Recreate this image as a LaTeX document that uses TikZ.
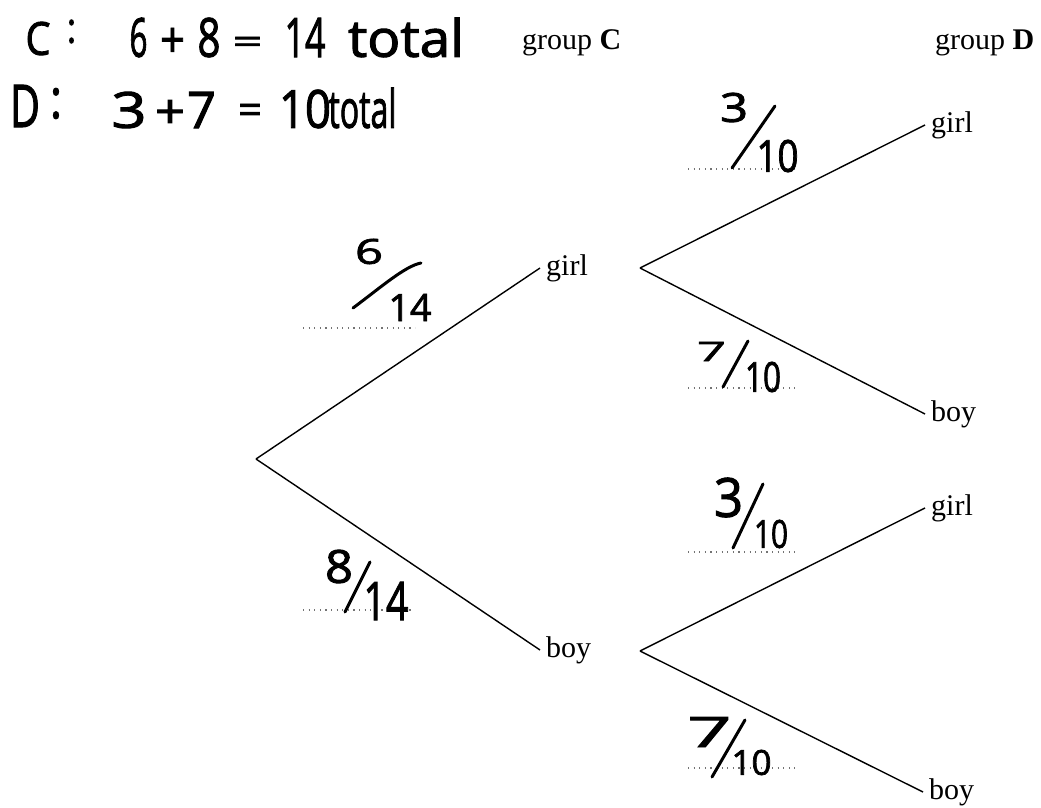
\documentclass[tikz,border=0pt]{standalone}
\usepackage{fontspec}
\setmainfont{Liberation Serif}
\newfontfamily\hwfont{Open Sans}[FakeBold=2]
\usepackage{graphicx}
\newcommand\hwtxt[3]{\resizebox{#1pt}{#2pt}{\hwfont #3}}
\begin{document}
\begin{tikzpicture}[x=1pt,y=-1pt,
  lbl/.style={font=\fontsize{30}{36}\selectfont, inner xsep=6pt, inner ysep=0pt, anchor=west},
  head/.style={font=\fontsize{30}{36}\selectfont, inner sep=0pt, anchor=base west},
  branch/.style={line width=1.4pt},
  blank/.style={black!55, line width=1.2pt, dash pattern=on 1.2pt off 4.4pt},
  hw/.style={inner sep=0pt},
  slash/.style={line width=3pt, line cap=round}]
\useasboundingbox (0,0) rectangle (1041,808);

% handwritten header notes
\node[hw] (t1) at (38,38.5) {\hwtxt{25}{33}{C}};
\node[hw] (t2) at (71.5,31.5) {\hwtxt{9}{23}{:}};
\node[hw] (t3) at (138.5,37.5) {\hwtxt{18}{39}{6}};
\node[hw] (t4) at (172.5,42.5) {\hwtxt{25}{29}{+}};
\node[hw] (t5) at (209,37.5) {\hwtxt{23}{39}{8}};
\node[hw] (t6) at (247.5,45) {\hwtxt{30}{16}{=}};
\node[hw] (t7) at (305,37.5) {\hwtxt{41}{39}{14}};
\node[hw] (t8) at (406,37.5) {\hwtxt{116}{39}{total}};

\node[hw] (u1) at (25,106) {\hwtxt{30}{42}{D}};
\node[hw] (u2) at (56,103.5) {\hwtxt{12}{30}{:}};
\node[hw] (u3) at (129,110) {\hwtxt{35}{36}{3}};
\node[hw] (u4) at (170,114) {\hwtxt{30}{28}{+}};
\node[hw] (u5) at (201.5,110) {\hwtxt{29}{36}{7}};
\node[hw] (u6) at (250,114) {\hwtxt{24}{20}{=}};
\node[hw] (u7) at (305,109) {\hwtxt{52}{38}{10}};
\node[hw] (u8) at (362.5,108) {\hwtxt{68}{40}{total}};

% column headings
\node[head] (hc) at (522,50) {group \textbf{C}};
\node[head] (hd) at (935,50) {group \textbf{D}};

% tree
\coordinate (root) at (256,459);
\node[lbl] (cg) at (540,268) {girl};
\node[lbl] (cb) at (540,650) {boy};
\coordinate (fg) at (640,268);
\coordinate (fb) at (640,651);
\node[lbl] (dg1) at (925,125) {girl};
\node[lbl] (db1) at (925,414) {boy};
\node[lbl] (dg2) at (925,508) {girl};
\node[lbl] (db2) at (923,792) {boy};

\draw[branch] (root) -- (cg.west);
\draw[branch] (root) -- (cb.west);
\draw[branch] (fg) -- (dg1.west);
\draw[branch] (fg) -- (db1.west);
\draw[branch] (fb) -- (dg2.west);
\draw[branch] (fb) -- (db2.west);

% dotted answer lines
\draw[blank] (303,328) -- (415,328);
\draw[blank] (688,169) -- (795,169);
\draw[blank] (688,388) -- (795,388);
\draw[blank] (303,610) -- (413,610);
\draw[blank] (688,552) -- (795,552);
\draw[blank] (688,768) -- (795,768);

% handwritten fractions
\node[hw] (f1n) at (369,251.5) {\hwtxt{28}{25}{6}};
\draw[slash] (353,308) .. controls (380,288) and (405,266) .. (421,263);
\node[hw] (f1d) at (410,307.5) {\hwtxt{43}{27}{14}};

\node[hw] (f2n) at (734,107.5) {\hwtxt{28}{29}{3}};
\draw[slash] (732,168) -- (775,106);
\node[hw] (f2d) at (777.5,156) {\hwtxt{42}{32}{10}};

\node[hw] (f3n) at (711.5,351.5) {\hwtxt{29}{19}{7}};
\draw[slash] (723,387) -- (748,341);
\node[hw] (f3d) at (763,377) {\hwtxt{36}{30}{10}};

\node[hw] (f4n) at (339,566.5) {\hwtxt{28}{33}{8}};
\draw[slash] (345,612) -- (370,562);
\node[hw] (f4d) at (386,601) {\hwtxt{45}{38}{14}};

\node[hw] (f5n) at (728.5,497.5) {\hwtxt{29}{39}{3}};
\draw[slash] (733,548) -- (763,484);
\node[hw] (f5d) at (771,534) {\hwtxt{34}{28}{10}};

\node[hw] (f6n) at (709.5,732) {\hwtxt{44}{30}{7}};
\draw[slash] (712,777) -- (745,720);
\node[hw] (f6d) at (751.5,762.5) {\hwtxt{40}{25}{10}};
\end{tikzpicture}
\end{document}
